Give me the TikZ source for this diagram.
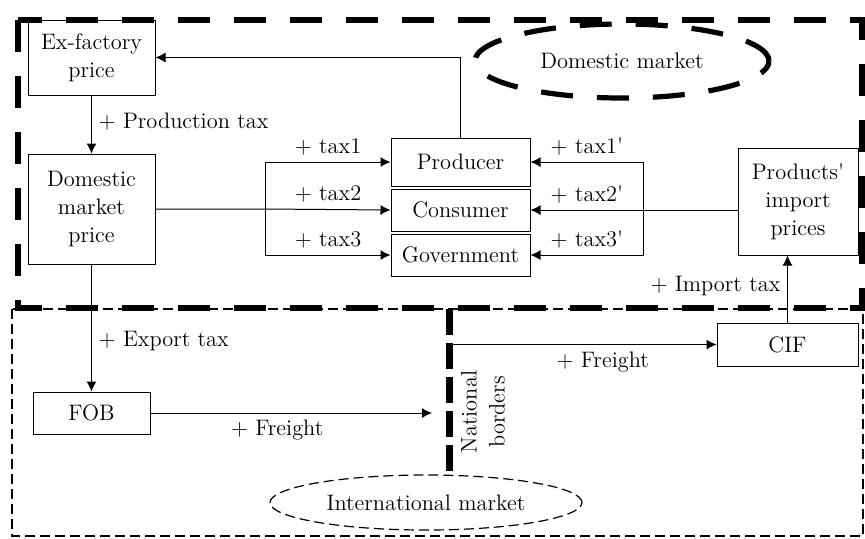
\documentclass[tikz,border=0pt]{standalone}
\usepackage{tikz}
\usetikzlibrary{arrows.meta,positioning,calc,shapes.geometric}

\begin{document}
\begin{tikzpicture}[x=0.5pt,y=-0.5pt,
  font=\fontsize{11.2}{14}\selectfont,
  box/.style={draw,line width=0.5pt,align=center,inner sep=1pt},
  arr/.style={-{Latex[length=5pt,width=5pt]},line width=0.5pt},
  bigdash/.style={line width=3pt,dash pattern=on 16pt off 12pt},
  smalldash/.style={line width=0.6pt,dash pattern=on 5pt off 2.5pt}
]
\useasboundingbox (0,0) rectangle (865,538);
% market areas
\draw[bigdash] (18,20) rectangle (862,308);
\draw[smalldash] (12,309) rectangle (863,536);
\node[ellipse,draw,bigdash,line width=2.6pt,minimum width=147pt,minimum height=37pt] (dommarket) at (622,61) {Domestic market};
\node[ellipse,draw,smalldash,minimum width=156pt,minimum height=27.5pt] (intmarket) at (426,502.5) {International market};
% national borders
\coordinate (bordtop) at (449,309);
\coordinate (bordbot) at (449,473);
\draw[line width=3.5pt,dash pattern=on 13pt off 4pt] (bordtop) -- (bordbot);
\node[rotate=90,align=center] (borders) at (483,412) {National\\borders};

% price boxes
\node[box,minimum width=63.5pt,minimum height=37.5pt] (exfactory) at (91.5,57.5) {Ex-factory\\price};
\node[box,minimum width=63.5pt,minimum height=55pt] (dommkt) at (91.5,209) {Domestic\\market\\price};
\node[box,minimum width=69.5pt,minimum height=24pt] (producer) at (460.5,162) {Producer};
\node[box,minimum width=69.5pt,minimum height=21pt,below=1pt of producer] (consumer) {Consumer};
\node[box,minimum width=69.5pt,minimum height=21pt,below=1pt of consumer] (govt) {Government};
\node[box,minimum width=60pt,minimum height=53.5pt] (imports) at (798,201.5) {Products\textquotesingle\\import\\prices};
\node[box,minimum width=70.5pt,minimum height=21.5pt] (cif) at (787.5,344.5) {CIF};
\node[box,minimum width=58.5pt,minimum height=21pt] (fob) at (91.5,413) {FOB};

\coordinate (lbranch) at ($(dommkt.east)+(110,0)$);
\coordinate (rbranch) at ($(consumer.east)+(113,0)$);
\coordinate (crossin) at ($(bordtop |- cif.west)+(3,0)$);
\coordinate (crossout) at ($(bordtop |- fob.east)+(-17,0)$);

% connectors
\draw[arr] (exfactory) -- node[right,pos=0.45]{+ Production tax} (dommkt);
\draw[arr] (dommkt) -- node[right,pos=0.6]{+ Export tax} (fob);
\draw[arr] (fob) -- node[below,pos=0.45]{+ Freight} (crossout);
\draw[arr] (crossin) -- node[below,pos=0.57]{+ Freight} (cif.west);
\draw[arr] (cif.north) -- node[left,pos=0.55]{+ Import tax} (cif.north |- imports.south);
\draw[arr] (producer.north) |- (exfactory.east);
\draw[arr] (dommkt.east) -- (lbranch) -- node[above]{+ tax2} (consumer.west);
\draw[arr] (lbranch) |- node[above,pos=0.75]{+ tax1} (producer.west);
\draw[arr] (lbranch) |- node[above,pos=0.75]{+ tax3} (govt.west);
\draw[arr] (imports.west |- consumer.east) -- (rbranch) -- node[above]{+ tax2\textquotesingle} (consumer.east);
\draw[arr] (rbranch) |- node[above,pos=0.75]{+ tax1\textquotesingle} (producer.east);
\draw[arr] (rbranch) |- node[above,pos=0.75]{+ tax3\textquotesingle} (govt.east);
\end{tikzpicture}
\end{document}
